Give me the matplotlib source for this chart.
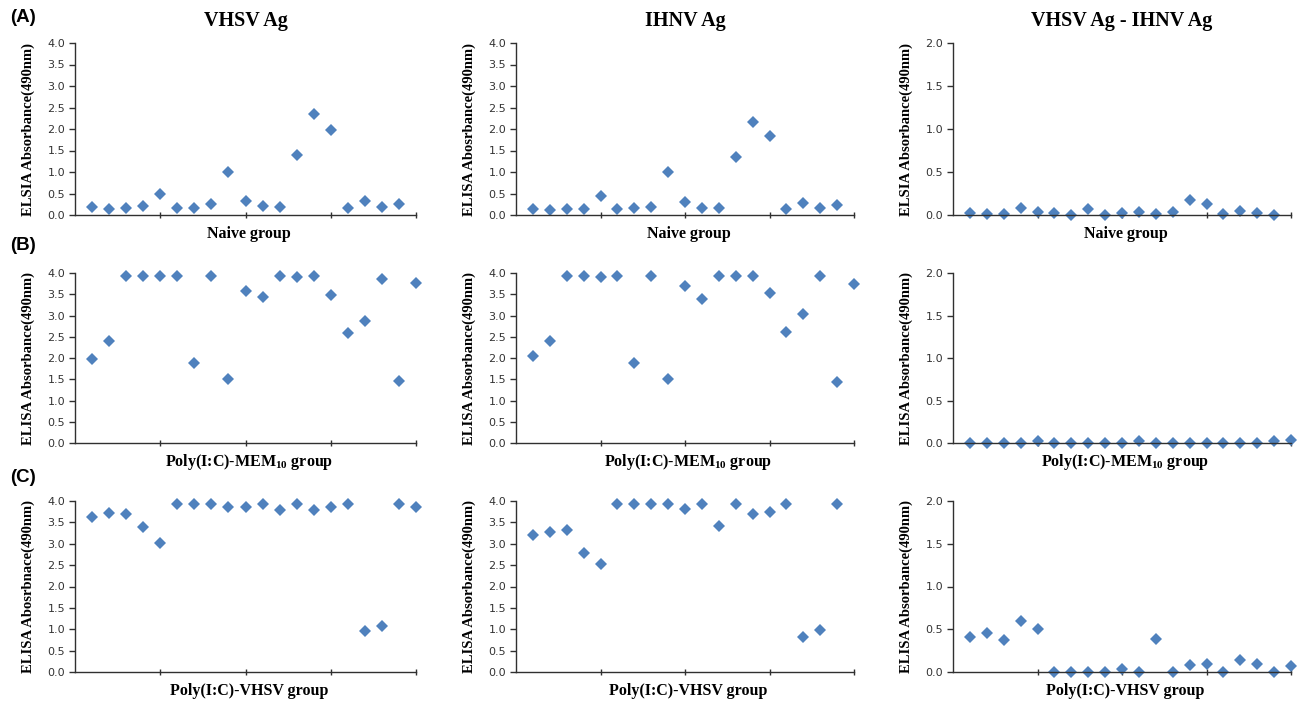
import matplotlib
matplotlib.use("Agg")
import matplotlib.pyplot as plt
import numpy as np

# --- values ---
naive_vhsv = [0.18, 0.13, 0.17, 0.21, 0.48, 0.17, 0.17, 0.26, 1.00, 0.32,
              0.21, 0.19, 1.40, 2.36, 1.98, 0.17, 0.33, 0.19, 0.25]
naive_ihnv = [0.14, 0.11, 0.15, 0.13, 0.44, 0.14, 0.16, 0.18, 1.01, 0.31,
              0.17, 0.17, 1.35, 2.16, 1.84, 0.14, 0.28, 0.16, 0.24]
naive_diff = [0.02, 0.01, 0.01, 0.08, 0.03, 0.02, 0.00, 0.07, 0.00, 0.02,
              0.03, 0.015, 0.04, 0.18, 0.13, 0.015, 0.05, 0.02, 0.00]

mem_vhsv = [1.97, 2.40, 3.93, 3.93, 3.93, 3.92, 1.88, 3.93, 1.50, 3.57,
            3.43, 3.93, 3.91, 3.93, 3.49, 2.60, 2.87, 3.86, 1.46, 3.76]
mem_ihnv = [2.05, 2.41, 3.94, 3.94, 3.91, 3.94, 1.89, 3.92, 1.51, 3.70,
            3.40, 3.94, 3.93, 3.94, 3.54, 2.61, 3.04, 3.92, 1.44, 3.73]
mem_diff = [0.00, 0.00, 0.00, 0.00, 0.02, 0.00, 0.00, 0.00, 0.00, 0.00,
            0.02, 0.00, 0.00, 0.00, 0.00, 0.00, 0.00, 0.00, 0.02, 0.03]

vhsv_vhsv = [3.62, 3.73, 3.70, 3.40, 3.02, 3.94, 3.94, 3.94, 3.86, 3.86,
             3.94, 3.80, 3.94, 3.79, 3.85, 3.94, 0.97, 1.08, 3.93, 3.87]
vhsv_ihnv = [3.20, 3.27, 3.33, 2.79, 2.52, 3.94, 3.94, 3.94, 3.92, 3.82,
             3.94, 3.41, 3.94, 3.70, 3.75, 3.94, 0.82, 0.98, 3.94]
vhsv_diff = [0.41, 0.46, 0.37, 0.60, 0.50, 0.00, 0.00, 0.00, 0.00, 0.04,
             0.00, 0.39, 0.00, 0.08, 0.09, 0.00, 0.14, 0.09, 0.00, 0.07]

col_titles = ["VHSV Ag", "IHNV Ag", "VHSV Ag - IHNV Ag"]
row_letters = ["(A)", "(B)", "(C)"]
group_names = ["Naive group", r"Poly(I:C)-MEM$_{\mathbf{10}}$ group", "Poly(I:C)-VHSV group"]
ylabels = [["ELSIA Absorbance(490nm)", "ELISA Abosrbance(490nm)", "ELSIA Absorbance(490nm)"],
           ["ELISA Absorbance(490nm)", "ELISA Absorbance(490nm)", "ELISA Absorbance(490nm)"],
           ["ELISA Abosrbnace(490nm)", "ELISA Absorbance(490nm)", "ELISA Absorbance(490nm)"]]
data = [[naive_vhsv, naive_ihnv, naive_diff],
        [mem_vhsv, mem_ihnv, mem_diff],
        [vhsv_vhsv, vhsv_ihnv, vhsv_diff]]

W, H = 1297, 702
fig = plt.figure(figsize=(W / 100, H / 100), dpi=100)
plt.rcParams['mathtext.fontset'] = 'custom'
plt.rcParams['mathtext.rm'] = 'Liberation Serif:bold'
plt.rcParams['mathtext.bf'] = 'Liberation Serif:bold'

# pixel boxes (left, right) per column, (top, bottom) per row
cols = [(75, 416), (516, 854), (953, 1291)]
rows = [(43, 215), (273, 443), (501, 672)]
blue = '#4F81BD'
axcol = '#303030'

for r in range(3):
    for c in range(3):
        l, rr = cols[c]
        t, b = rows[r]
        ax = fig.add_axes([l / W, 1 - b / H, (rr - l) / W, (b - t) / H])
        y = data[r][c]
        x = np.arange(1, len(y) + 1)
        ax.plot(x, y, linestyle='none', marker='D', markersize=5.8,
                color=blue, markeredgewidth=0, clip_on=False)
        ax.set_xlim(0, 20)
        top = 2.0 if c == 2 else 4.0
        ax.set_ylim(0, top)
        ax.set_yticks(np.arange(0, top + 0.01, 0.5))
        ax.set_yticklabels(['%.1f' % v for v in np.arange(0, top + 0.01, 0.5)])
        ax.set_xticks([5, 10, 15, 20])
        ax.set_xticklabels([])
        for s in ['top', 'right']:
            ax.spines[s].set_visible(False)
        for s in ['left', 'bottom']:
            ax.spines[s].set_color(axcol)
            ax.spines[s].set_linewidth(1.0)
        ax.tick_params(axis='y', direction='out', length=4, width=1, color=axcol,
                       labelsize=8, labelcolor='#333333', pad=3)
        ax.tick_params(axis='x', direction='inout', length=5, width=1, color=axcol)
        ax.set_ylabel(ylabels[r][c], family='Liberation Serif', fontweight='bold',
                      fontsize=10.5, va='center')
        ax.yaxis.set_label_coords(-47 / (rr - l), 0.5)
        ax.set_xlabel(group_names[r], family='Liberation Serif', fontweight='bold',
                      fontsize=11.5, va='center')
        ax.xaxis.set_label_coords(0.51, -19 / (b - t))
        if r == 0:
            ax.set_title(col_titles[c], family='Liberation Serif', fontweight='bold',
                         fontsize=14.5, pad=12)

for r in range(3):
    yy = [18, 246, 478][r]
    fig.text(10 / W, 1 - yy / H, row_letters[r], family='Liberation Sans',
             fontweight='bold', fontsize=13.5, va='center', ha='left')

fig.savefig('out.png', dpi=100)
